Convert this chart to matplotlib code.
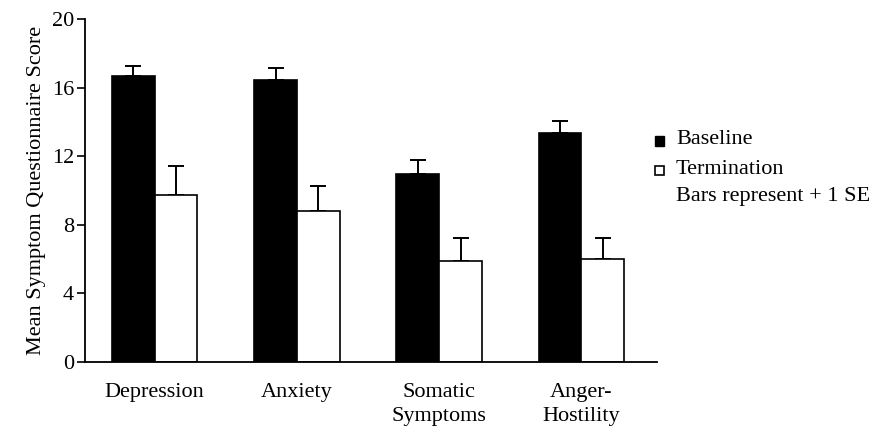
import matplotlib
matplotlib.use("Agg")
import matplotlib.pyplot as plt
import numpy as np
from matplotlib.patches import Rectangle

categories = ["Depression", "Anxiety", "Somatic\nSymptoms", "Anger-\nHostility"]
baseline = [16.65, 16.45, 10.95, 13.35]
baseline_se = [0.6, 0.7, 0.8, 0.7]
termination = [9.75, 8.8, 5.9, 6.0]
termination_se = [1.7, 1.45, 1.35, 1.25]
yticks = [0, 4, 8, 12, 16, 20]

plt.rcParams['font.family'] = ['Liberation Serif', 'DejaVu Serif']
FS = 16

fig = plt.figure(figsize=(8.79, 4.41), dpi=100)
ax = fig.add_axes([0.0967, 0.179, 0.6505, 0.778])

x = np.arange(len(categories))
w = 0.30
ax.bar(x - w/2, baseline, width=w, color='black', edgecolor='black', linewidth=1.2, zorder=2)
ax.bar(x + w/2, termination, width=w, color='white', edgecolor='black', linewidth=1.2, zorder=2)
ax.errorbar(x - w/2, baseline, yerr=[np.zeros(4), baseline_se], fmt='none',
            ecolor='black', elinewidth=1.4, capsize=5.5, capthick=1.4, zorder=1)
ax.errorbar(x + w/2, termination, yerr=[np.zeros(4), termination_se], fmt='none',
            ecolor='black', elinewidth=1.4, capsize=5.5, capthick=1.4, zorder=1)

ax.set_xlim(-0.49, 3.53)
ax.set_ylim(0, 20)
ax.set_yticks(yticks)
ax.set_yticklabels([str(t) for t in yticks], fontsize=FS)
ax.set_xticks(x)
ax.set_xticklabels(categories, fontsize=FS, linespacing=1.35)
ax.tick_params(axis='x', length=0, pad=15)
ax.tick_params(axis='y', length=6, width=1.2, pad=2, direction='out')
for s in ['top', 'right']:
    ax.spines[s].set_visible(False)
for s in ['left', 'bottom']:
    ax.spines[s].set_linewidth(1.3)
ax.set_ylabel("Mean Symptom Questionnaire Score", fontsize=FS, labelpad=4)

# legend
fig.patches.append(Rectangle((655/879, 1 - 146/441), 9/879, 10/441, transform=fig.transFigure,
                             facecolor='black', edgecolor='black', linewidth=1))
fig.patches.append(Rectangle((655/879, 1 - 175/441), 9/879, 9/441, transform=fig.transFigure,
                             facecolor='white', edgecolor='black', linewidth=1.2))
fig.text(676/879, 1 - 140/441, "Baseline", fontsize=FS, va='center', ha='left')
fig.text(676/879, 1 - 169/441, "Termination", fontsize=FS, va='center', ha='left')
fig.text(676/879, 1 - 196/441, "Bars represent + 1 SE", fontsize=FS, va='center', ha='left')

fig.savefig("out.png", dpi=100)
